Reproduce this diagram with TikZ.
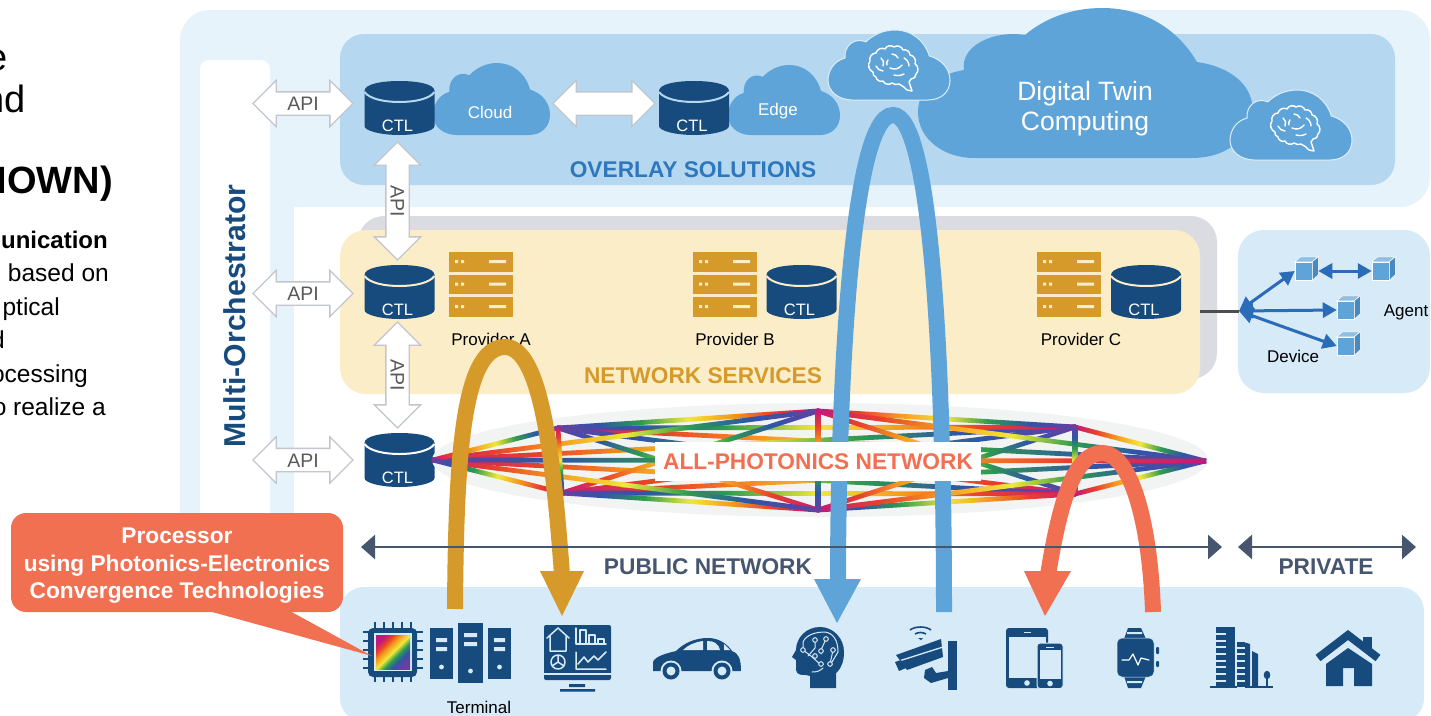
\documentclass[tikz,border=0pt]{standalone}
\usepackage{fontspec}
\setmainfont{Liberation Sans}
\usetikzlibrary{arrows.meta,shapes.arrows}
\definecolor{framec}{HTML}{E6F3FB}
\definecolor{overlayc}{HTML}{B5D8F0}
\definecolor{panelc}{HTML}{D6EAF8}
\definecolor{platec}{HTML}{DADCE2}
\definecolor{yellowc}{HTML}{FBEDC8}
\definecolor{navy}{HTML}{174B7E}
\definecolor{cloudc}{HTML}{5FA4D9}
\definecolor{goldc}{HTML}{D69A2B}
\definecolor{redc}{HTML}{F27052}
\definecolor{slatec}{HTML}{46566F}
\definecolor{bluetxt}{HTML}{2F77BC}
\definecolor{devblue}{HTML}{2B6CB8}
\definecolor{apigray}{HTML}{C2C6CE}
\definecolor{lensc}{HTML}{F2F4F4}
\definecolor{rbm}{HTML}{C2187E}
\definecolor{rbr}{HTML}{E8402C}
\definecolor{rbo}{HTML}{F59A1E}
\definecolor{rby}{HTML}{F0E83A}
\definecolor{rbg}{HTML}{2E9B4E}
\definecolor{rbb}{HTML}{2F55A8}
\definecolor{rbp}{HTML}{6A3FA0}
\pgfdeclarehorizontalshading{rba}{100bp}{color(0bp)=(rbm);color(25bp)=(rbm);color(33bp)=(rbr);color(41bp)=(rbo);color(50bp)=(rby);color(58bp)=(rbg);color(66bp)=(rbb);color(75bp)=(rbp);color(100bp)=(rbp)}
\pgfdeclarehorizontalshading{rbz}{100bp}{color(0bp)=(rbp);color(25bp)=(rbp);color(33bp)=(rbb);color(41bp)=(rbg);color(50bp)=(rby);color(58bp)=(rbo);color(66bp)=(rbr);color(75bp)=(rbm);color(100bp)=(rbm)}
\newdimen\rbxa \newdimen\rbya \newdimen\rbxb \newdimen\rbyb
\newcommand\rb[3][rba]{%
  \pgfextractx{\rbxa}{\pgfpointanchor{#2}{center}}\pgfextracty{\rbya}{\pgfpointanchor{#2}{center}}%
  \pgfextractx{\rbxb}{\pgfpointanchor{#3}{center}}\pgfextracty{\rbyb}{\pgfpointanchor{#3}{center}}%
  \pgfmathsetmacro\rbang{atan2(\rbyb-\rbya,\rbxb-\rbxa)}%
  \pgfmathsetmacro\rblen{veclen(\rbxb-\rbxa,\rbyb-\rbya)}%
  \begin{scope}[transform canvas={shift={(\the\rbxa,\the\rbya)},rotate=\rbang}]
    \shade[shading=#1] (-1pt,-2.4pt) rectangle (\rblen pt+1pt,2.4pt);
  \end{scope}}
\newcommand\cloudshape[5]{%
  \path[#5,shift={(#1,#2)},x=#3pt,y=-#4pt] (.2,1) -- (.82,1) .. controls (.93,1) and (1,.88) .. (1,.72) .. controls (1,.55) and (.93,.42) .. (.83,.37) .. controls (.79,.14) and (.68,0) .. (.55,0) .. controls (.45,0) and (.37,.07) .. (.31,.17) .. controls (.22,.1) and (.13,.22) .. (.14,.4) .. controls (.05,.44) and (0,.58) .. (0,.72) .. controls (0,.88) and (.09,1) .. (.2,1) -- cycle;}
\newcommand\ctl[4]{%
  \begin{scope}[shift={(#2,#3)}]
    \fill[navy] (-35,10) .. controls (-35,3) and (-18,0) .. (0,0) .. controls (18,0) and (35,3) .. (35,10) -- (35,45) .. controls (35,50) and (18,54) .. (0,54) .. controls (-18,54) and (-35,50) .. (-35,45) -- cycle;
    \draw[#4,line width=2pt] (-35,11) .. controls (-30,18) and (-15,21) .. (0,21) .. controls (15,21) and (30,18) .. (35,11);
    \node[smalltext,text=white] (#1) at (-2,44.5) {CTL};
  \end{scope}}
\newcommand\server[2]{%
  \begin{scope}[shift={(#1,#2)}]
    \foreach \yy in {0,22.5,45}{
      \fill[goldc] (0,\yy) rectangle (64,\yy+19.5);
      \fill[yellowc] (6,\yy+8) rectangle (9,\yy+11) (12,\yy+8) rectangle (15,\yy+11) (40,\yy+8) rectangle (57,\yy+11);
    }
  \end{scope}}
\newcommand\brain[2]{%
  \begin{scope}[shift={(#1,#2)},line width=1.4pt,white,line join=round,line cap=round]
    \draw (5,26) to[bend left=55] (2,15) to[bend left=55] (8,7) to[bend left=55] (17,3) to[bend left=55] (26,1) to[bend left=55] (35,4) to[bend left=55] (42,9) to[bend left=55] (47,18) to[bend left=55] (48,28) to[bend left=50] (43,33) to[bend left=20] (41,36) -- (44,45) -- (39,44) to[bend right=10] (31,38) to[bend left=30] (24,37) to[bend left=55] (15,35) to[bend left=55] (8,31) to[bend left=45] (5,26);
    \draw (13,12) to[bend left=40] (15,20) (8,20) to[bend right=30] (15,25) (24,8) to[bend left=30] (30,12) (22,22) to[bend right=40] (34,19) (36,12) to[bend left=30] (41,20) (26,29) to[bend right=20] (36,28) (20,14) to[bend right=30] (19,19);
  \end{scope}}
\newcommand\cube[3]{%
  \node[cubefront] (#1) at (#2,#3) {};
  \fill[cubetop,draw=white,line width=.5pt] (#1.north west) -- ++(6,-5) -- ++(17,0) -- (#1.north east) -- cycle;
  \fill[cubeside,draw=white,line width=.5pt] (#1.north east) -- ++(6,-5) -- ++(0,18) -- (#1.south east) -- cycle;}
\tikzset{
  smalltext/.style={font=\fontsize{16.5}{19}\selectfont,inner sep=0pt},
  labeltext/.style={font=\fontsize{17}{20}\selectfont,inner sep=0pt},
  headtext/.style={font=\fontsize{22.7}{27}\selectfont\bfseries,inner sep=0pt},
  leftbig/.style={font=\fontsize{38}{42}\selectfont,inner sep=0pt,anchor=base east},
  leftsmall/.style={font=\fontsize{24.5}{30}\selectfont,inner sep=0pt,anchor=base east},
  apiarrow/.style={double arrow,draw=apigray,fill=white,line width=1.3pt,double arrow head extend=11.5pt,minimum height=100pt,minimum width=45pt,inner sep=0pt,text height=18pt,text depth=4pt,text=black!65,font=\fontsize{19.5}{22}\selectfont},
  arch/.style={line width=16pt},
  cubefront/.style={rectangle,fill=cloudc,draw=white,line width=.5pt,minimum width=17pt,minimum height=18pt,inner sep=0pt},
  cubetop/.style={fill=cloudc!70!white},
  cubeside/.style={fill=cloudc!70!navy},
  devarrow/.style={draw=devblue,line width=3pt,{Triangle[length=14pt,width=15pt]}-{Triangle[length=14pt,width=15pt]}},
  spanarrow/.style={draw=slatec,line width=2.5pt,{Triangle[length=14pt,width=24pt]}-{Triangle[length=14pt,width=24pt]}},
  icon/.style={fill=navy},
  cut/.style={draw=panelc,line width=1.5pt,line cap=round,line join=round},
}
\begin{document}
\begin{tikzpicture}[x=1pt,y=-1pt]
\useasboundingbox (0,0) rectangle (1431,715);
\fill[white] (0,0) rectangle (1431,715);
% left clipped text
\node[leftbig] (t1) at (8,70) {e};
\node[leftbig] (t2) at (26,112) {nd};
\node[leftbig,font=\fontsize{38}{42}\selectfont\bfseries] (t3) at (113,193) {IOWN)};
\node[leftsmall,font=\fontsize{24}{30}\selectfont\bfseries] (t4) at (108,248) {unication};
\node[leftsmall] (t5) at (109,281) {based on};
\node[leftsmall] (t6) at (60,315) {ptical};
\node[leftsmall] (t7) at (5,348) {d};
\node[leftsmall] (t8) at (88,382) {ocessing};
\node[leftsmall] (t9) at (106,415) {o realize a};
% frame
\fill[framec,rounded corners=30pt] (180,10) rectangle (1430,207);
\fill[framec] (180,60) rectangle (294,530);
\fill[white,rounded corners=9pt] (200,540) -- (200,60) -- (270,60) -- (270,540) -- cycle;
% panels
\fill[overlayc,rounded corners=24pt] (340,34) rectangle (1395,185);
\fill[platec,rounded corners=26pt] (358,216) rectangle (1217,379);
\fill[yellowc,rounded corners=26pt] (340,230) rectangle (1200,394);
\fill[panelc,rounded corners=26pt] (1238,230) rectangle (1430,393);
\fill[panelc,rounded corners=24pt] (340,587) rectangle (1424,722);
% gray connector
\coordinate (yellowEdge) at (1200,311);
\coordinate (hub) at (1239,311);
\draw[draw=black!65!platec,line width=3pt] (yellowEdge) -- (hub);
% clouds
\cloudshape{433}{63}{117}{72}{fill=cloudc}
\cloudshape{728}{65}{112}{70}{fill=cloudc}
\path[fill=cloudc] (974,158) -- (1191,158) .. controls (1235,158) and (1254,130) .. (1252,103) .. controls (1248,80) and (1225,66) .. (1197,62) .. controls (1175,25) and (1140,8) .. (1102,8) .. controls (1072,8) and (1045,18) .. (1025,35) .. controls (995,30) and (960,45) .. (964,70) .. controls (935,75) and (918,90) .. (918,112) .. controls (918,140) and (945,158) .. (974,158) -- cycle;
\cloudshape{828}{30}{122}{70}{fill=cloudc,draw=white!80!cloudc,line width=1pt}
\cloudshape{1230}{90}{122}{70}{fill=cloudc,draw=white!80!cloudc,line width=1pt}
\brain{868}{46}
\brain{1270}{106}
\node[labeltext,text=white] (cloudT) at (490,112) {Cloud};
\node[labeltext,text=white] (edgeT) at (778,111) {Edge};
\node[text=white,align=center,inner sep=0pt,font=\fontsize{26.5}{30.5}\selectfont] (dtc) at (1085,108.5) {Digital Twin\\Computing};
\node[headtext,text=bluetxt] (ovl) at (693,170) {OVERLAY SOLUTIONS};
% CTLs
\ctl{ctlTop}{399.5}{81}{overlayc}
\ctl{ctlEdge}{694}{81}{overlayc}
\ctl{ctlA}{399.5}{265}{yellowc}
\ctl{ctlB}{801.5}{265}{yellowc}
\ctl{ctlC}{1146}{265}{yellowc}
\ctl{ctlN}{399.5}{433}{white}
% servers
\server{449}{252}
\server{693}{252}
\server{1037}{252}
\node[labeltext] (pa) at (491,339) {Provider A};
\node[labeltext] (pb) at (735,339) {Provider B};
\node[labeltext] (pc) at (1081,339) {Provider C};
\node[headtext,text=goldc] (nsv) at (703,376) {NETWORK SERVICES};
% API arrows
\node[apiarrow] (api1) at (303,103.5) {API};
\node[apiarrow] (api2) at (303,293.5) {API};
\node[apiarrow] (api3) at (303,460) {API};
\node[apiarrow,minimum height=102pt] (cloudEdge) at (604,103.5) {};
\node[apiarrow,rotate=-90,minimum height=118pt] (apiV1) at (397.5,201) {API};
\node[apiarrow,rotate=-90,minimum height=106pt] (apiV2) at (397.5,375) {API};
\node[text=navy,rotate=90,inner sep=0pt,font=\fontsize{30.2}{34}\selectfont\bfseries] (mo) at (235,316) {Multi-Orchestrator};
% device panel
\cube{cubeA}{1303.5}{271}
\cube{cubeB}{1380.5}{271}
\cube{cubeC}{1345.5}{310}
\cube{cubeD}{1345.5}{346}
\draw[devarrow] (hub) -- (cubeA.west);
\draw[devarrow] (hub) -- (cubeC.west);
\draw[devarrow] (hub) -- (cubeD.west);
\draw[devarrow] ([xshift=6pt]cubeA.east) -- (cubeB.west);
\node[labeltext] (agent) at (1406,312) {Agent};
\node[labeltext] (device) at (1293,356) {Device};
% network mesh
\fill[lensc] (820,460) ellipse [x radius=388pt,y radius=57pt];
\coordinate (L) at (433,460);
\coordinate (UL) at (558,428);
\coordinate (LL) at (562,493);
\coordinate (UM) at (818,411);
\coordinate (LM) at (818,510);
\coordinate (UR) at (1075,427);
\coordinate (LR) at (1075,494);
\coordinate (R) at (1205,461);
\rb[rba]{UL}{R}
\rb[rba]{LL}{R}
\rb[rbz]{UL}{LR}
\rb[rba]{LL}{UR}
\rb[rba]{L}{UR}
\rb[rba]{L}{LR}
\rb[rbz]{UL}{UR}
\rb[rbz]{LL}{LR}
\rb[rbz]{UL}{LM}
\rb[rba]{LL}{UM}
\rb[rba]{UM}{LR}
\rb[rba]{LM}{UR}
\rb[rba]{UM}{UR}
\rb[rbz]{LM}{LR}
\rb[rbz]{UL}{UM}
\rb[rbz]{LL}{LM}
\rb[rba]{L}{UM}
\rb[rba]{L}{LM}
\rb[rba]{UM}{R}
\rb[rba]{LM}{R}
\rb[rba]{UR}{R}
\rb[rba]{LR}{R}
\rb[rbz]{L}{R}
\rb[rba]{L}{UL}
\rb[rbz]{L}{LL}
\rb[rba]{UL}{LL}
\rb[rba]{UM}{LM}
\rb[rbz]{UR}{LR}
% arches
\draw[arch,goldc] (455,609) .. controls (456,460) and (462,347) .. (505,347) .. controls (540,347) and (553,450) .. (562,575);
\fill[goldc] (540,571) -- (584,571) -- (562,616) -- cycle;
\draw[arch,cloudc] (838,582) .. controls (838,400) and (850,115) .. (893,115) .. controls (930,115) and (944,350) .. (944,612);
\fill[cloudc] (814,579) -- (861,579) -- (837,623) -- cycle;
\draw[arch,redc] (1048,575) .. controls (1060,500) and (1075,453) .. (1102,453) .. controls (1130,453) and (1150,520) .. (1153,612);
\fill[redc] (1024,571) -- (1071,571) -- (1045,616) -- cycle;
% label box
\node[fill=white,minimum width=326pt,minimum height=39pt,inner sep=0pt,text=redc,font=\fontsize{22.7}{27}\selectfont\bfseries] (apn) at (818,461.5) {ALL-PHOTONICS NETWORK};
% span arrows
\coordinate (pubL) at (361,547);
\coordinate (pubR) at (1222,547);
\coordinate (priL) at (1238,547);
\coordinate (priR) at (1416,547);
\draw[spanarrow] (pubL) -- (pubR);
\draw[spanarrow] (priL) -- (priR);
\node[headtext,text=slatec] (pub) at (708,567) {PUBLIC NETWORK};
\node[headtext,text=slatec] (pri) at (1326,567) {PRIVATE};
% chip
\foreach \pp in {375,384,393,402,411}{
  \fill[navy] (\pp-1.1,622) rectangle (\pp+1.1,682);
  \fill[navy] (363,\pp+257-1.1) rectangle (423,\pp+257+1.1);
}
\fill[navy,rounded corners=5pt] (368,628) rectangle (417,677);
\fill[panelc] (374,633) rectangle (412,671);
\shade[shading=rba,shading angle=-45] (376,635) rectangle (410,669);
% callout
\fill[redc] (205,610) -- (288,610) -- (372,656) -- cycle;
\fill[redc,rounded corners=15pt] (11,513) rectangle (343,612);
\node[inner sep=0pt,text=white,align=center,font=\fontsize{22.7}{27.5}\selectfont\bfseries] (proc) at (177,566) {Processor\\using Photonics-Electronics\\Convergence Technologies};
% towers
\foreach \xa/\xb/\ya/\yb in {430/453/628/679,458/483/623/683,488/511/628/679}{
  \fill[icon] (\xa,\ya) rectangle (\xb,\yb);
  \fill[panelc] (\xa+6,\ya+10) rectangle (\xb-6,\ya+14) (\xa+6,\ya+19) rectangle (\xb-6,\ya+23);
  \fill[panelc] ({(\xa+\xb)/2},\yb-12) circle (2.4pt);
}
\node[labeltext] (term) at (479,707) {Terminal};
% dashboard
\fill[icon,rounded corners=2pt] (544,625) rectangle (611,680);
\draw[cut,line width=2pt] (544,673.5) -- (611,673.5);
\fill[icon] (569,684) rectangle (585,687) (560,689) rectangle (595,691.5);
\draw[cut] (547,638) -- (558,628) -- (569,638) (550,636) -- (550,651) -- (566,651) -- (566,636);
\draw[cut] (576,628) -- (576,644) -- (606,644) (580,644) -- (580,630) -- (586,630) -- (586,644) (589,644) -- (589,635) -- (595,635) -- (595,644) (598,644) -- (598,639) -- (604,639) -- (604,644);
\draw[cut] (558,662) circle (7pt) (558,662) -- (558,655) (558,662) -- (552,666) (558,662) -- (564,666);
\draw[cut] (576,652) -- (576,669) -- (606,669) (578,664) -- (584,657) -- (588,662) -- (594,656) -- (598,660) -- (606,652);
% car
\fill[icon] (653,671) -- (653,662) .. controls (655,656) and (668,653) .. (676,651) .. controls (684,643) and (695,638) .. (708,638) .. controls (720,638) and (728,645) .. (732,651) .. controls (738,653) and (741,658) .. (741,671) -- cycle;
\fill[panelc] (683,650) .. controls (688,645) and (695,642) .. (703,641) -- (703,650) -- cycle (707,641) .. controls (714,641) and (718,643) .. (720,650) -- (707,650) -- cycle (724,644) -- (730,650) -- (724,650) -- cycle;
\foreach \cxx in {671,722}{
  \fill[panelc] (\cxx,671) circle (10.5pt);
  \fill[icon] (\cxx,671) circle (8.5pt);
  \fill[panelc] (\cxx,671) circle (4.5pt);
}
% head
\fill[icon] (810,688) -- (836,688) -- (836,673) .. controls (842,668) and (844,660) .. (844,652) .. controls (844,638) and (833,627) .. (820,627) .. controls (806,627) and (796,638) .. (796,650) -- (792,657) -- (796,660) -- (796,670) .. controls (797,675) and (801,675) .. (806,675) -- (810,676) -- cycle;
\draw[cut,line width=1pt] (803,650) -- (803,642) .. controls (806,635) and (815,632) .. (825,632) .. controls (833,633) and (838,640) .. (838,652) -- (832,662) (815,640) -- (815,648) -- (808,656) (826,639) -- (821,650) -- (821,654) (803,650) -- (811,656) -- (821,665) (833,650) -- (830,664) (812,672) .. controls (817,672) and (820,671) .. (823,668);
\foreach \cc/\dd in {815/640,826/639,803/650,821/651,833/650,815/656,821/664,830/664}{\filldraw[fill=navy,draw=panelc,line width=1pt] (\cc,\dd) circle (2.3pt);}
% camera
\draw[navy,line width=1.6pt] (910,630) .. controls (915,626) and (926,626) .. (931,630) (915,634) .. controls (918,632) and (923,632) .. (926,634);
\fill[icon] (918,638) -- (923,638) -- (921,640) -- cycle;
\fill[icon] (896,655) -- (941,639) -- (943,657) -- (907,670) -- cycle;
\draw[cut,line width=1.3pt] (899,661) -- (943,647);
\fill[icon] (895,662) -- (901,660) -- (906,668) -- (899,671) -- cycle;
\fill[icon] (948,641) rectangle (957,690);
\fill[icon] (925,670) -- (932,667) -- (936,673) -- (948,671) -- (948,678) -- (931,683) -- (924,678) -- cycle;
% tablet phone
\fill[icon,rounded corners=3pt] (1006,628) rectangle (1048,688);
\fill[panelc] (1009,637) rectangle (1046,678);
\fill[panelc] (1024,631.5) rectangle (1031,633);
\fill[panelc] (1027,683) circle (2.8pt);
\fill[icon,rounded corners=3pt,draw=panelc,line width=1pt] (1037,643) rectangle (1063,688.5);
\fill[panelc] (1039.5,650) rectangle (1061,679);
\fill[panelc] (1046,646.5) rectangle (1054,648);
\fill[panelc] (1050,683.5) circle (2.8pt);
% watch
\fill[icon] (1128,628) -- (1141,628) -- (1146,639) -- (1124,639) -- cycle (1124,676) -- (1146,676) -- (1141,688) -- (1128,688) -- cycle;
\fill[panelc] (1127,632) rectangle (1142,634) (1127,681) rectangle (1142,683);
\fill[icon,rounded corners=5pt,draw=panelc,line width=.5pt] (1117,638) rectangle (1154,677);
\fill[icon,rounded corners=1pt] (1156,647) rectangle (1159,654) (1156,661) rectangle (1159,667);
\draw[cut,white,line width=1.2pt] (1122,660) -- (1129,660) -- (1133,654) -- (1138,665) -- (1141,658) -- (1149,660);
% buildings
\fill[icon] (1216,627) rectangle (1235,687);
\fill[icon] (1237,640) -- (1250,644) -- (1250,687) -- (1237,687) -- cycle;
\fill[icon] (1252,651) -- (1258,654) -- (1258,687) -- (1252,687) -- cycle;
\fill[icon] (1210,686) rectangle (1273,688);
\foreach \yy in {633,640,646,653,660,666,673,680}{
  \fill[panelc] (1216,\yy) rectangle (1226,\yy+1.5);
  \fill[panelc] (1237,\yy+7) rectangle (1245,\yy+8.5);
}
\fill[icon] (1266,677) rectangle (1268,686);
\fill[icon] (1267,675) ellipse [x radius=3.3pt,y radius=4.2pt];
% house
\fill[icon] (1363,637) rectangle (1372,652);
\draw[navy,line width=8pt,line join=miter] (1318,658) -- (1348,635) -- (1378,658);
\fill[icon] (1326,686) -- (1326,664) -- (1348,648) -- (1372,664) -- (1372,686) -- (1354,686) -- (1354,668) -- (1343,668) -- (1343,686) -- cycle;
\end{tikzpicture}
\end{document}
